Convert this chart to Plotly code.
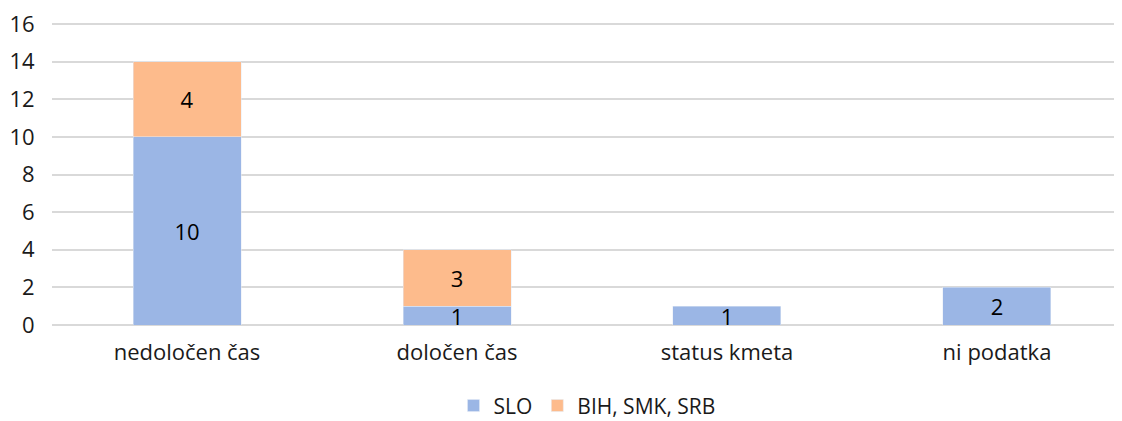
import plotly.graph_objects as go

categories = ["nedoločen čas", "določen čas", "status kmeta", "ni podatka"]
slo = [10, 1, 1, 2]
bih = [4, 3, None, None]
series_names = ["SLO", "BIH, SMK, SRB"]
y_ticks = [0, 2, 4, 6, 8, 10, 12, 14, 16]

font = "Open Sans, Noto Sans, sans-serif"
fs = 22
fig = go.Figure()
fig.add_trace(go.Bar(x=categories, y=slo, name=series_names[0], marker_color="#9bb6e5",
                     text=slo, textposition="inside", insidetextanchor="middle",
                     textangle=0, constraintext="none",
                     textfont=dict(size=fs, color="#000000", family=font)))
fig.add_trace(go.Bar(x=categories, y=bih, name=series_names[1], marker_color="#fdbb8c",
                     text=bih, textposition="inside", insidetextanchor="middle",
                     textangle=0, constraintext="none",
                     textfont=dict(size=fs, color="#000000", family=font)))
fig.update_layout(
    barmode="stack", bargap=0.6,
    width=1114, height=413,
    margin=dict(l=44, r=0, t=15, b=96, autoexpand=False),
    plot_bgcolor="white", paper_bgcolor="white",
    font=dict(family=font, size=fs, color="#1a1a1a"),
    uniformtext=dict(minsize=fs, mode="show"),
    showlegend=True,
    legend=dict(orientation="h", x=0.5, xanchor="center", y=-0.2,
                yanchor="top", font=dict(size=21), traceorder="normal"),
    xaxis=dict(range=[-0.5, 3.463], showgrid=False, ticks="", tickfont=dict(size=fs),
               automargin=False, ticklabelstandoff=12),
    yaxis=dict(range=[0, 16.06], tickvals=y_ticks, gridcolor="#d9d9d9", gridwidth=2,
               zeroline=True, zerolinecolor="#d9d9d9", zerolinewidth=2,
               ticks="outside", ticklen=12, tickcolor="rgba(0,0,0,0)",
               ticklabeloverflow="allow",
               tickfont=dict(size=fs), automargin=False),
)
fig.write_html("out.html")
